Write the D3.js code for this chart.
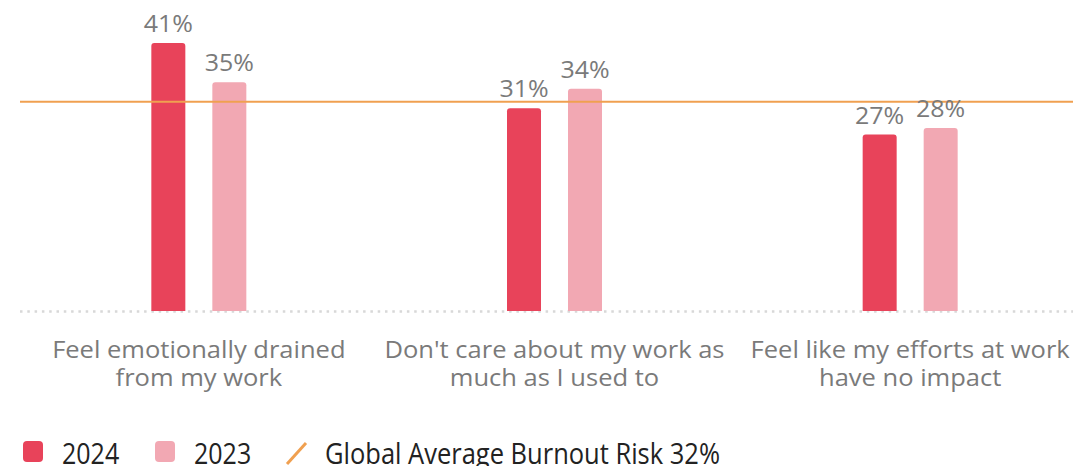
<!DOCTYPE html>
<html>
<head>
<meta charset="utf-8">
<script src="https://cdn.jsdelivr.net/npm/d3@7"></script>
<style>
  html, body { margin: 0; padding: 0; background: #fff; }
  svg { display: block; font-family: "Open Sans", sans-serif; }
</style>
</head>
<body>
<svg id="chart" width="1073" height="466"></svg>
<script>
const categories = [
  ["Feel emotionally drained", "from my work"],
  ["Don't care about my work as", "much as I used to"],
  ["Feel like my efforts at work", "have no impact"]
];
const series = ["2024", "2023"];
const values2024 = [41, 31, 27];
const values2023 = [35, 34, 28];
const globalAverage = 32;
const legendLabels = ["2024", "2023", "Global Average Burnout Risk 32%"];

const colors = { "2024": "#e8435a", "2023": "#f2a8b3", avg: "#f0a050" };

const svg = d3.select("#chart");
const width = 1073, height = 466;
const margin = { left: 21, right: -15 };
const baseY = 311;

const x = d3.scaleBand()
  .domain(d3.range(categories.length))
  .range([margin.left, width - margin.right]);

const y = d3.scaleLinear().domain([0, 41]).range([baseY, 43]);

const barW = 34, gap = 28;
const xOff = { "2024": -barW - gap / 2 + 0.5, "2023": gap / 2 - 0.5 };
const data = categories.map((c, i) => ({ i, "2024": values2024[i], "2023": values2023[i] }));

// text placed via transform so glyphs can be widened slightly
function placeText(sel, px, py, sx, sy) {
  return sel.attr("x", 0).attr("y", 0)
    .attr("transform", `translate(${px},${py}) scale(${sx},${sy})`);
}

// dotted baseline
svg.append("line")
  .attr("x1", 20).attr("x2", width)
  .attr("y1", baseY + 0.5).attr("y2", baseY + 0.5)
  .attr("stroke", "#d8d8d8").attr("stroke-width", 2.5)
  .attr("stroke-dasharray", "2.5 4.8");

// bars
series.forEach(s => {
  const g = svg.append("g");
  g.selectAll("path").data(data).join("path")
    .attr("fill", colors[s])
    .attr("d", d => {
      const x0 = x(d.i) + x.bandwidth() / 2 + xOff[s];
      const y0 = y(d[s]);
      const r = 3;
      return `M${x0},${baseY} V${y0 + r} Q${x0},${y0} ${x0 + r},${y0} H${x0 + barW - r} Q${x0 + barW},${y0} ${x0 + barW},${y0 + r} V${baseY} Z`;
    });
});

// global average line
svg.append("line")
  .attr("x1", 20).attr("x2", width)
  .attr("y1", y(globalAverage)).attr("y2", y(globalAverage))
  .attr("stroke", colors.avg).attr("stroke-width", 2);

// value labels
series.forEach(s => {
  svg.append("g").selectAll("text").data(data).join("text")
    .each(function (d) {
      placeText(d3.select(this),
        x(d.i) + x.bandwidth() / 2 + xOff[s] + barW / 2,
        y(d[s]) - 11, 1.04, 1);
    })
    .attr("text-anchor", "middle")
    .attr("font-size", 24)
    .attr("fill", "#7a7a7a")
    .text(d => d[s] + "%");
});

// category labels, one text per line
const catG = svg.append("g");
categories.forEach((lines, i) => {
  lines.forEach((ln, k) => {
    placeText(catG.append("text"), x(i) + x.bandwidth() / 2, 358 + k * 28, 1.11, 1)
      .attr("text-anchor", "middle")
      .attr("font-size", 23)
      .attr("fill", "#7a7a7a")
      .text(ln);
  });
});

// legend
const lg = svg.append("g").attr("font-size", 25).attr("fill", "#222");
lg.append("rect").attr("x", 23).attr("y", 441).attr("width", 20).attr("height", 21).attr("rx", 4).attr("fill", colors["2024"]);
placeText(lg.append("text"), 62, 464, 1.0, 1.2).text(legendLabels[0]);
lg.append("rect").attr("x", 155).attr("y", 441).attr("width", 20).attr("height", 21).attr("rx", 4).attr("fill", colors["2023"]);
placeText(lg.append("text"), 194, 464, 1.0, 1.2).text(legendLabels[1]);
lg.append("line").attr("x1", 287).attr("y1", 464).attr("x2", 306).attr("y2", 443)
  .attr("stroke", colors.avg).attr("stroke-width", 3);
placeText(lg.append("text"), 325, 464, 1.02, 1.2).text(legendLabels[2]);
</script>
</body>
</html>
